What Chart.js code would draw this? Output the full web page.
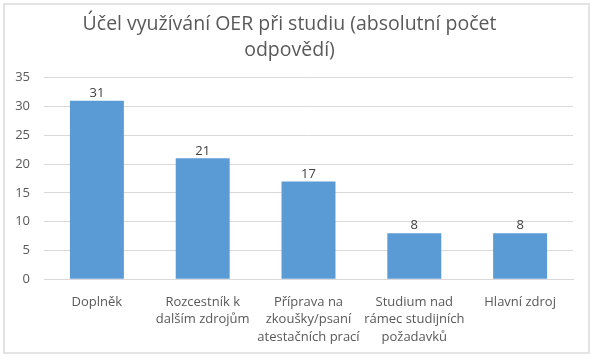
<!DOCTYPE html>
<html>
<head>
<meta charset="utf-8">
<script src="https://cdn.jsdelivr.net/npm/chart.js@4"></script>
<style>
  html, body { margin: 0; padding: 0; background: #fff; }
  #frame {
    position: absolute; left: 3px; top: 3px; width: 587px; height: 351px;
    border: 2px solid #e4e4e4; box-sizing: border-box;
  }
  #wrap { position: absolute; left: 0; top: 0; width: 593px; height: 360px; }
</style>
</head>
<body>
<div id="frame"></div>
<div id="wrap"><canvas id="c" width="593" height="360"></canvas></div>
<script>
const categories = [
  "Doplněk",
  ["Rozcestník k", "dalším zdrojům"],
  ["Příprava na", "zkoušky/psaní", "atestačních prací"],
  ["Studium nad", "rámec studijních", "požadavků"],
  "Hlavní zdroj"
];
const counts = [31, 21, 17, 8, 8];
const yTicks = [0, 5, 10, 15, 20, 25, 30, 35];

const FONT = "'Open Sans', 'Liberation Sans', sans-serif";
const TEXT = "#595959";

// draws the value above each bar
const valueLabels = {
  id: "valueLabels",
  afterDatasetsDraw(chart) {
    const ctx = chart.ctx;
    const meta = chart.getDatasetMeta(0);
    ctx.save();
    ctx.font = "13px " + FONT;
    ctx.fillStyle = "#404040";
    ctx.textAlign = "center";
    ctx.textBaseline = "bottom";
    meta.data.forEach((bar, i) => {
      ctx.fillText(String(counts[i]), bar.x, bar.y - 1);
    });
    ctx.restore();
  }
};

new Chart(document.getElementById("c"), {
  type: "bar",
  data: {
    labels: categories,
    datasets: [{
      data: counts,
      backgroundColor: "#5b9bd5",
      categoryPercentage: 1,
      barPercentage: 0.51
    }]
  },
  options: {
    responsive: false,
    animation: false,
    layout: { padding: { left: 6, right: 20, top: 0, bottom: 8 } },
    plugins: {
      legend: { display: false },
      tooltip: { enabled: false },
      title: {
        display: true,
        text: ["Účel využívání OER při studiu (absolutní počet", "odpovědí)"],
        color: TEXT,
        font: { family: FONT, size: 19.5, weight: "normal", lineHeight: 1.35 },
        padding: { top: 11, bottom: 14 }
      }
    },
    scales: {
      x: {
        grid: { display: false },
        border: { color: "#d9d9d9" },
        ticks: {
          color: TEXT,
          font: { family: FONT, size: 13, lineHeight: 1.35 },
          maxRotation: 0,
          autoSkip: false,
          padding: 6
        }
      },
      y: {
        min: 0,
        max: 35,
        afterBuildTicks(axis) { axis.ticks = yTicks.map(v => ({ value: v })); },
        afterFit(axis) { axis.width = 38; },
        grid: { color: "#d9d9d9", drawTicks: false },
        border: { display: false },
        ticks: {
          color: TEXT,
          font: { family: FONT, size: 13 },
          padding: 14
        }
      }
    }
  },
  plugins: [valueLabels]
});
</script>
</body>
</html>
